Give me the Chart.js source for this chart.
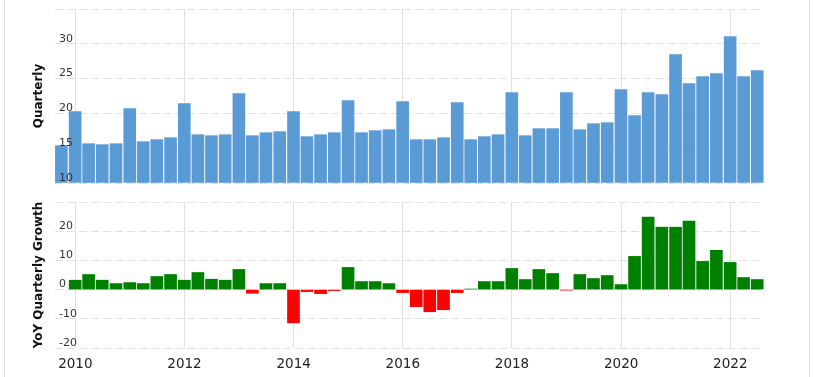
<!DOCTYPE html>
<html>
<head>
<meta charset="utf-8">
<script src="https://cdn.jsdelivr.net/npm/chart.js@4/dist/chart.umd.min.js"></script>
<style>
html,body{margin:0;padding:0;background:#fff;}
#wrap{position:relative;width:813px;height:377px;overflow:hidden;background:#fff;}
#frame{position:absolute;left:4px;top:0;width:804px;height:377px;border-left:1px solid #dddddd;border-right:1px solid #dddddd;}
#c1wrap{position:absolute;left:0;top:0;width:813px;height:190px;}
#c2wrap{position:absolute;left:0;top:190px;width:813px;height:187px;}
</style>
</head>
<body>
<div id="wrap">
  <div id="frame"></div>
  <div id="c1wrap"><canvas id="c1" width="813" height="190"></canvas></div>
  <div id="c2wrap"><canvas id="c2" width="813" height="187"></canvas></div>
</div>
<script>
// ---- data ----
const quarterDates = [
  '2009-09-30','2009-12-31',
  '2010-03-31','2010-06-30','2010-09-30','2010-12-31',
  '2011-03-31','2011-06-30','2011-09-30','2011-12-31',
  '2012-03-31','2012-06-30','2012-09-30','2012-12-31',
  '2013-03-31','2013-06-30','2013-09-30','2013-12-31',
  '2014-03-31','2014-06-30','2014-09-30','2014-12-31',
  '2015-03-31','2015-06-30','2015-09-30','2015-12-31',
  '2016-03-31','2016-06-30','2016-09-30','2016-12-31',
  '2017-03-31','2017-06-30','2017-09-30','2017-12-31',
  '2018-03-31','2018-06-30','2018-09-30','2018-12-31',
  '2019-03-31','2019-06-30','2019-09-30','2019-12-31',
  '2020-03-31','2020-06-30','2020-09-30','2020-12-31',
  '2021-03-31','2021-06-30','2021-09-30','2021-12-31',
  '2022-03-31','2022-06-30'
];
const quarterlyValues = [
  15.36, 20.25,
  15.65, 15.51, 15.65, 20.68,
  15.94, 16.23, 16.51, 21.40,
  16.94, 16.80, 16.94, 22.84,
  16.80, 17.23, 17.38, 20.25,
  16.66, 16.94, 17.23, 21.83,
  17.23, 17.52, 17.66, 21.69,
  16.23, 16.23, 16.51, 21.54,
  16.23, 16.66, 16.94, 22.98,
  16.80, 17.81, 17.81, 22.98,
  17.66, 18.52, 18.67, 23.41,
  19.67, 22.98, 22.69, 28.44,
  24.27, 25.28, 25.71, 31.03,
  25.28, 26.14
];
const yoyGrowth = [
  null, 3.22,
  5.17, 3.22, 2.07, 2.41,
  2.07, 4.48, 5.17, 3.22,
  5.86, 3.56, 3.22, 6.90,
  -1.26, 2.07, 2.07, -11.40,
  -0.69, -1.38, -0.34, 7.59,
  2.76, 2.76, 2.07, -1.03,
  -5.86, -7.59, -6.90, -1.03,
  0.20, 2.76, 2.76, 7.24,
  3.45, 6.90, 5.52, -0.20,
  5.17, 3.79, 4.83, 1.72,
  11.38, 24.83, 21.38, 21.38,
  23.45, 9.66, 13.45, 9.31,
  4.14, 3.45
];
const yearTicks = [2010, 2012, 2014, 2016, 2018, 2020, 2022];
const topYTicks = [10, 15, 20, 25, 30, 35];
const bottomYTicks = [-20, -10, 0, 10, 20, 30];

// ---- helpers ----
function toYear(s) {
  const d = new Date(s + 'T00:00:00Z');
  const y = d.getUTCFullYear();
  const a = Date.UTC(y, 0, 1), b = Date.UTC(y + 1, 0, 1);
  return y + (d.getTime() - a) / (b - a);
}
const xs = quarterDates.map(toYear);
const X_MIN = 2009.628, X_MAX = 2022.5625;
const GRID = '#e0e0e0';
const FONT = 'DejaVu Sans';

function xAxis(showLabels, height) {
  return {
    type: 'linear', min: X_MIN, max: X_MAX, offset: false,
    afterBuildTicks: s => { s.ticks = yearTicks.map(v => ({value: v})); },
    grid: {color: GRID, lineWidth: 1, drawTicks: false, offset: false},
    border: {display: false},
    ticks: {display: showLabels, autoSkip: false, maxRotation: 0, padding: 8,
      font: {family: FONT, size: 13.5}, color: '#222',
      callback: v => String(v)},
    afterFit: s => { s.height = height; s.paddingLeft = 0; s.paddingRight = 0; }
  };
}
function yAxis(min, max, tickList, title) {
  return {
    position: 'left', min: min, max: max,
    afterBuildTicks: s => { s.ticks = tickList.map(v => ({value: v})); },
    grid: {color: GRID, lineWidth: 1, drawTicks: false, borderDash: [8, 4], z: -1},
    border: {display: false, dash: [8, 4]},
    ticks: {mirror: true, padding: 4, labelOffset: -5, autoSkip: false, z: 1,
      font: {family: FONT, size: 11}, color: '#333',
      callback: v => (v === max ? '' : String(v))},
    title: {display: true, text: title, color: '#111',
      font: {family: FONT, size: 12, weight: 'bold'}, padding: {top: 32, bottom: 0}},
    afterFit: s => { s.width = 55; s.paddingTop = 0; s.paddingBottom = 0; }
  };
}
const common = {
  responsive: false, animation: false, devicePixelRatio: 1,
  plugins: {legend: {display: false}, tooltip: {enabled: false}}
};

new Chart(document.getElementById('c1'), {
  type: 'bar',
  data: {datasets: [{
    data: xs.map((x, i) => ({x: x, y: quarterlyValues[i]})),
    backgroundColor: '#5b9bd5', borderWidth: 0, barThickness: 12,
    base: 10, clip: false
  }]},
  options: Object.assign({}, common, {
    layout: {padding: {top: 9, right: 52, bottom: 0, left: 0}},
    scales: {x: xAxis(false, 7), y: yAxis(10, 35, topYTicks, 'Quarterly')}
  })
});

new Chart(document.getElementById('c2'), {
  type: 'bar',
  data: {datasets: [{
    data: xs.map((x, i) => ({x: x, y: yoyGrowth[i]})),
    backgroundColor: yoyGrowth.map(v => (v !== null && v < 0) ? '#ff0000' : '#008000'),
    borderWidth: 0, barThickness: 12, clip: false
  }]},
  options: Object.assign({}, common, {
    layout: {padding: {top: 12, right: 52, bottom: 0, left: 0}},
    scales: {x: xAxis(true, 29), y: yAxis(-20, 30, bottomYTicks, 'YoY Quarterly Growth')}
  })
});
</script>
</body>
</html>
